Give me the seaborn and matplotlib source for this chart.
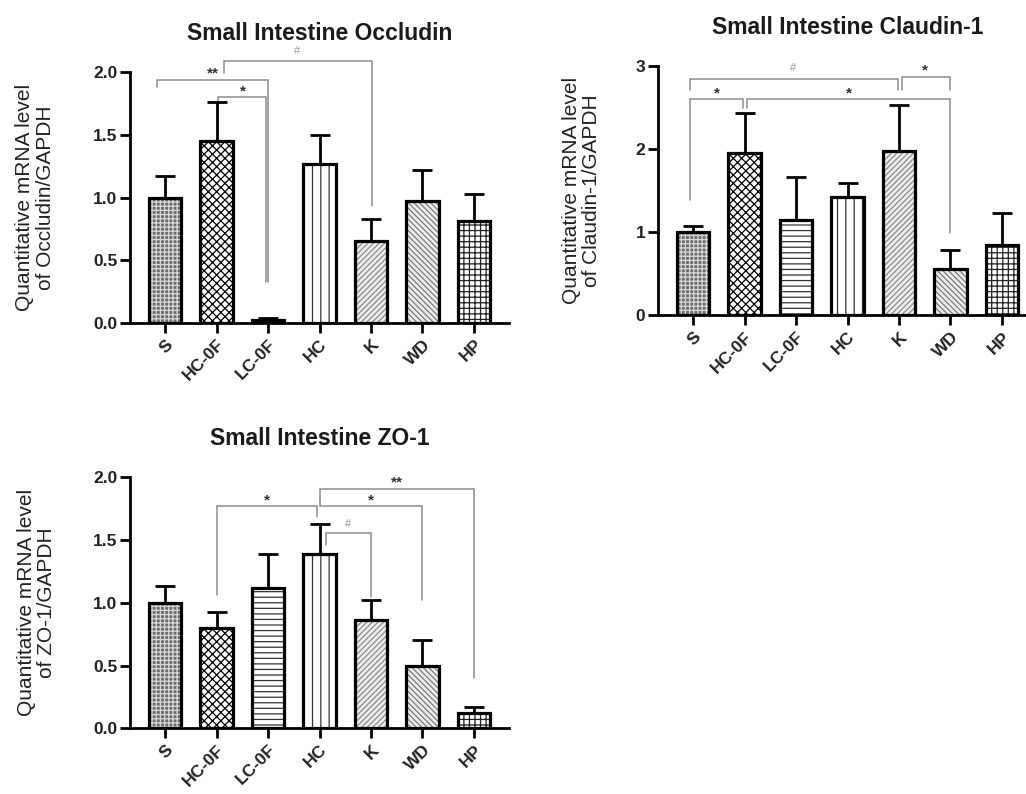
import numpy as np
import pandas as pd
import matplotlib
matplotlib.use("Agg")
import matplotlib.pyplot as plt
import seaborn as sns

# ---------------- data ----------------
groups = ["S", "HC-0F", "LC-0F", "HC", "K", "WD", "HP"]

occludin_mean = [1.00, 1.45, 0.02, 1.27, 0.65, 0.97, 0.81]
occludin_err = [0.17, 0.31, 0.02, 0.23, 0.18, 0.25, 0.22]

claudin_mean = [1.00, 1.95, 1.15, 1.42, 1.98, 0.56, 0.84]
claudin_err = [0.08, 0.48, 0.52, 0.17, 0.55, 0.23, 0.39]

zo1_mean = [1.00, 0.80, 1.12, 1.39, 0.86, 0.50, 0.12]
zo1_err = [0.13, 0.13, 0.27, 0.24, 0.16, 0.20, 0.05]

# fill / hatch styling per group
face_colors = ["#6e6e6e", "#ffffff", "#ffffff", "#ffffff", "#eeeeee", "#eeeeee", "#ffffff"]
hatch_colors = ["#d8d8d8", "#000000", "#333333", "#333333", "#8a8a8a", "#7a7a7a", "#222222"]
hatches = ["++++", "xxxx", "---", "||", "//////", "\\\\\\\\\\\\", "+++"]

sns.set_style("ticks")
plt.rcParams["font.family"] = ["Liberation Sans", "DejaVu Sans"]
plt.rcParams["hatch.linewidth"] = 0.9

fig = plt.figure(figsize=(10.26, 7.94), dpi=100)

W = 379 / 1026
ax_occ = fig.add_axes([130 / 1026, 1 - 323 / 794, W, 251 / 794])
ax_cla = fig.add_axes([658 / 1026, 1 - 315.3 / 794, W, 249.3 / 794])
ax_zo = fig.add_axes([130 / 1026, 1 - 728.3 / 794, W, 251 / 794])

ANN = "#8c8c8c"


def draw_panel(ax, means, errs, title, ylabel, ylim, yticks, fmt, label_x):
    df = pd.DataFrame({"group": groups, "value": means})
    pal = dict(zip(groups, face_colors))
    # hatched fill
    sns.barplot(data=df, x="group", y="value", hue="group", palette=pal,
                order=groups, hue_order=groups, width=0.64, errorbar=None,
                legend=False, ax=ax, zorder=3)
    for p in list(ax.patches):
        i = int(round(p.get_x() + p.get_width() / 2))
        p.set_hatch(hatches[i])
        p.set_edgecolor(hatch_colors[i])
        p.set_linewidth(0)
    # black outlines
    sns.barplot(data=df, x="group", y="value", order=groups, width=0.64,
                errorbar=None, fill=False, edgecolor="black", linewidth=2.3,
                ax=ax, zorder=4)
    x = np.arange(len(groups))
    ax.errorbar(x, means, yerr=[np.zeros(len(errs)), errs], fmt="none",
                ecolor="black", elinewidth=2.0, capsize=7, capthick=2.0,
                zorder=2)
    ax.set_xlim(-0.68, 6.68)
    ax.set_ylim(*ylim)
    ax.set_yticks(yticks)
    ax.set_yticklabels([fmt.format(v) for v in yticks], fontsize=12.5,
                       fontweight="bold", color="#222222")
    ax.set_xticks(x)
    ax.set_xticklabels(groups, rotation=45, ha="right", rotation_mode="anchor",
                       fontsize=12.5, fontweight="bold", color="#222222")
    ax.tick_params(axis="both", direction="out", length=7, width=2, color="black",
                   pad=3)
    ax.tick_params(axis="y", pad=2)
    sns.despine(ax=ax)
    for s in ["left", "bottom"]:
        ax.spines[s].set_linewidth(2)
        ax.spines[s].set_color("black")
    ax.set_xlabel("")
    ax.set_ylabel(ylabel, fontsize=15, color="#222222", linespacing=1.1)
    ax.yaxis.set_label_coords(label_x, 0.5)
    ax.set_title(title, fontsize=16.5, fontweight="bold", pad=23, color="#1a1a1a")
    ax.set_facecolor("white")


def bracket(ax, x1, x2, y, b1, b2, text, tx, ty, size=11):
    ax.plot([x1, x1, x2, x2], [b1, y, y, b2], color=ANN, lw=1.1,
            clip_on=False, zorder=1, solid_joinstyle="miter")
    if text == "#":
        ax.text(tx, ty, text, ha="center", va="bottom", fontsize=8,
                color="#9a9a9a", clip_on=False)
    else:
        ax.text(tx, ty, text, ha="center", va="bottom", fontsize=size,
                color="#333333", fontweight="bold", clip_on=False)


draw_panel(ax_occ, occludin_mean, occludin_err, "Small Intestine Occludin",
           "Quantitative mRNA level\nof Occludin/GAPDH", (0, 2.0),
           [0.0, 0.5, 1.0, 1.5, 2.0], "{:.1f}", -0.198)
draw_panel(ax_cla, claudin_mean, claudin_err, "Small Intestine Claudin-1",
           "Quantitative mRNA level\nof Claudin-1/GAPDH", (0, 3.0),
           [0, 1, 2, 3], "{:.0f}", -0.150)
draw_panel(ax_zo, zo1_mean, zo1_err, "Small Intestine ZO-1",
           "Quantitative mRNA level\nof ZO-1/GAPDH", (0, 2.0),
           [0.0, 0.5, 1.0, 1.5, 2.0], "{:.1f}", -0.195)

# significance brackets - Occludin
bracket(ax_occ, -0.16, 2.0, 1.94, 1.88, 0.33, "**", 0.93, 1.93)
bracket(ax_occ, 1.03, 1.96, 1.80, 1.77, 0.33, "*", 1.52, 1.79)
bracket(ax_occ, 1.15, 4.02, 2.09, 1.99, 0.93, "#", 2.57, 2.13)

# Claudin-1
bracket(ax_cla, -0.06, 3.99, 2.84, 2.71, 2.71, "#", 1.95, 2.92)
bracket(ax_cla, 4.05, 5.0, 2.87, 2.71, 2.71, "*", 4.5, 2.86)
bracket(ax_cla, -0.06, 0.98, 2.60, 1.39, 2.49, "*", 0.47, 2.59)
bracket(ax_cla, 1.05, 5.0, 2.60, 2.49, 0.99, "*", 3.02, 2.59)

# ZO-1
bracket(ax_zo, 1.0, 2.95, 1.77, 1.06, 1.68, "*", 1.98, 1.76)
bracket(ax_zo, 3.01, 6.0, 1.91, 1.82, 0.40, "**", 4.5, 1.90)
bracket(ax_zo, 3.01, 5.0, 1.77, 1.82, 1.02, "*", 4.0, 1.76)
bracket(ax_zo, 3.13, 4.0, 1.56, 1.46, 1.05, "#", 3.55, 1.59)

fig.savefig("out.png", dpi=100, facecolor="white")
